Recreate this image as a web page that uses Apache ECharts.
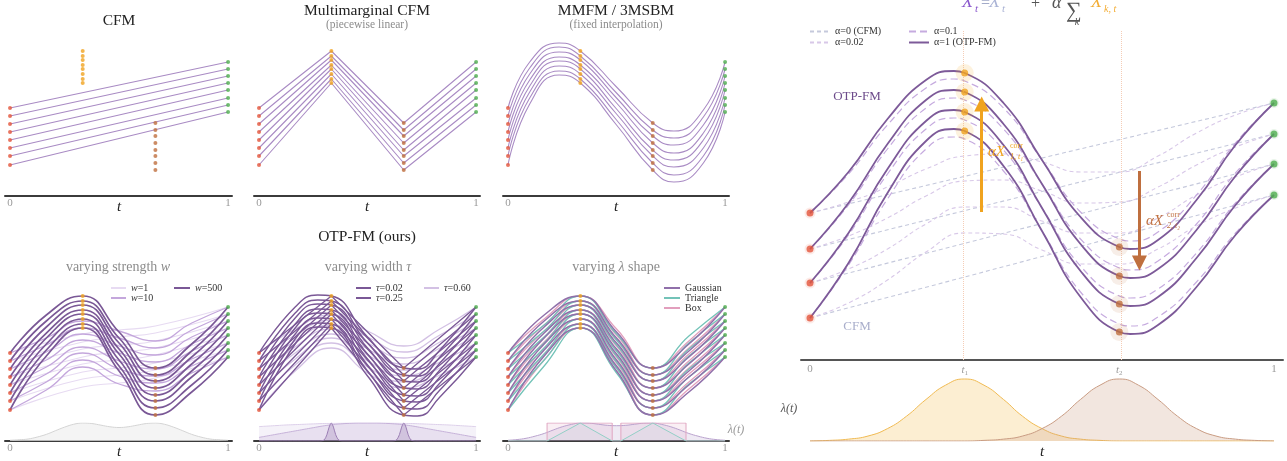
<!DOCTYPE html>
<html>
<head>
<meta charset="utf-8">
<title>OTP-FM trajectories</title>
<script src="https://cdn.jsdelivr.net/npm/echarts@6.0.0/dist/echarts.min.js"></script>
<style>
  html, body { margin: 0; padding: 0; background: #fff; }
  #chart { width: 1287px; height: 461px; }
</style>
</head>
<body>
<div id="chart"></div>
<script>
const SERIF = '"Liberation Serif", "DejaVu Serif", serif';

// ---------- sample times ----------
const knotTimes   = [0, 1/3, 2/3, 1];
const sixthTimes  = [0, 1/6, 1/3, 1/2, 2/3, 5/6, 1];
const wideTimes   = [0, 1/3, 1/2, 2/3, 1];
const mmfmTimes   = [0, 0.1, 0.235, 1/3, 0.5, 2/3, 0.764, 0.9, 1];
const tauMidTimes = [0, 1/6, 0.27, 1/3, 1/2, 2/3, 0.73, 5/6, 1];
const bigTimes    = [0, 0.083, 0.167, 0.25, 0.31, 1/3, 0.417, 0.5, 0.583, 2/3, 0.69, 0.75, 0.833, 0.917, 1];
const softTimes   = [0, 0.083, 0.167, 0.25, 1/3, 0.417, 0.5, 0.583, 2/3, 0.75, 0.833, 0.917, 1];

// ---------- small panels: 8 particles at the four marginals ----------
const startPts = [88, 80, 72, 64, 56, 48, 40, 31];
const midPts1  = [145, 140, 136, 131, 127, 122, 117, 113];
const midPts2  = [73, 66, 60, 53, 46, 40, 33, 26];
const endPts   = [134, 127, 120, 113, 106, 98, 91, 84];

// MMFM / 3MSBM cubic paths
const mmfmEarly = [134, 128, 122, 116, 110, 104, 98, 92];
const mmfmPeak  = [153, 149, 144, 139, 135, 130, 125, 121];
const mmfmMid   = [109, 103, 98, 93, 87, 82, 76, 71];
const mmfmLow   = [65, 58, 51, 43, 36, 29, 21, 14];
const mmfmLate  = [86, 79, 71, 63, 56, 48, 40, 33];

// OTP-FM, Gaussian lambda, full strength
const otpRise  = [126, 120, 114, 108, 103, 97, 91, 85];
const otpCross = [109, 103, 98, 92, 87, 81, 75, 70];
const otpClimb = [97, 90, 84, 77, 70, 64, 56, 49];

// strength w=10
const w10Rise  = [103, 96, 89, 81, 74, 67, 59, 51];
const w10Mid1  = [120, 113, 107, 101, 94, 88, 81, 74];
const w10Cross = [110, 103, 95, 88, 80, 72, 65, 57];
const w10Mid2  = [100, 93, 86, 79, 72, 65, 58, 50];
const w10Climb = [118, 111, 104, 97, 90, 82, 75, 68];

// strength w=1
const w1Mid1  = [107, 99, 92, 84, 77, 69, 62, 54];
const w1Cross = [111, 104, 96, 89, 81, 73, 66, 58];
const w1Mid2  = [115, 108, 100, 93, 86, 78, 71, 63];

// width tau=0.25
const tauMidRise  = [134, 128, 123, 117, 113, 107, 102, 97];
const tauMidPeak  = [146, 141, 137, 132, 128, 123, 118, 114];
const tauMidCross = [104, 98, 93, 87, 82, 76, 70, 65];
const tauMidLow   = [72, 65, 59, 52, 45, 39, 32, 25];
const tauMidClimb = [91, 84, 78, 71, 64, 58, 51, 44];

// width tau=0.60
const tauWideRise  = [112, 106, 100, 94, 88, 82, 76, 70];
const tauWideMid1  = [126, 121, 116, 112, 107, 103, 98, 93];
const tauWideCross = [110, 104, 98, 92, 86, 80, 74, 68];
const tauWideMid2  = [95, 89, 83, 77, 71, 65, 59, 53];
const tauWideClimb = [112, 106, 99, 93, 86, 79, 73, 66];

// lambda shape: triangle and box
const triRise  = [116, 110, 104, 98, 93, 87, 81, 75];
const triCross = [107, 101, 96, 90, 85, 79, 73, 68];
const triClimb = [105, 98, 92, 85, 78, 72, 64, 57];
const boxRise  = [122, 116, 110, 104, 99, 93, 87, 81];
const boxCross = [112, 106, 101, 95, 90, 84, 78, 73];
const boxClimb = [100, 93, 87, 80, 73, 67, 59, 52];

// lambda(t) profiles
const lamT = [0, 0.042, 0.083, 0.125, 0.167, 0.208, 0.25, 0.292, 0.333, 0.375, 0.417, 0.458, 0.5,
              0.542, 0.583, 0.625, 0.667, 0.708, 0.75, 0.792, 0.833, 0.875, 0.917, 0.958, 1];
const lamStrength = [0.04, 0.07, 0.11, 0.22, 0.37, 0.57, 0.77, 0.93, 1, 0.97, 0.88, 0.79, 0.75,
                     0.79, 0.88, 0.97, 1, 0.93, 0.77, 0.57, 0.37, 0.22, 0.11, 0.07, 0.04];
const lamTauWide = [0.8, 0.83, 0.86, 0.89, 0.91, 0.93, 0.95, 0.97, 0.98, 0.99, 1, 1, 1,
                    1, 1, 0.99, 0.98, 0.97, 0.95, 0.93, 0.91, 0.89, 0.86, 0.83, 0.8];
const lamTauMid = [0.2, 0.29, 0.38, 0.47, 0.56, 0.65, 0.74, 0.83, 0.9, 0.95, 0.98, 1, 1,
                   1, 0.98, 0.95, 0.9, 0.83, 0.74, 0.65, 0.56, 0.47, 0.38, 0.29, 0.2];
const lamTauNarrowT = [0, 0.28, 0.3, 0.313, 0.323, 0.333, 0.343, 0.353, 0.367, 0.387,
                       0.613, 0.633, 0.647, 0.657, 0.667, 0.677, 0.687, 0.7, 0.72, 1];
const lamTauNarrow = [0, 0, 0.06, 0.36, 0.77, 1, 0.77, 0.36, 0.06, 0,
                      0, 0.06, 0.36, 0.77, 1, 0.77, 0.36, 0.06, 0, 0];
const lamGauss = [0.04, 0.08, 0.15, 0.27, 0.42, 0.61, 0.79, 0.92, 1, 0.99, 0.93, 0.87, 0.85,
                  0.87, 0.93, 0.99, 1, 0.92, 0.79, 0.61, 0.42, 0.27, 0.15, 0.08, 0.04];
const lamTriT = [0, 0.18, 0.333, 0.48, 0.52, 0.667, 0.82, 1];
const lamTri  = [0, 0, 1, 0, 0, 1, 0, 0];
const lamBoxT = [0, 0.18, 0.18, 0.48, 0.48, 0.52, 0.52, 0.82, 0.82, 1];
const lamBox  = [0, 0, 1, 1, 0, 0, 1, 1, 0, 0];

// ---------- large panel: 4 particles ----------
const bigStart = [147, 111, 77, 42];
const bigT1    = [287, 268, 248, 229];
const bigT2    = [113, 84, 56, 28];
const bigEnd   = [257, 226, 196, 165];
// one row per particle, sampled at bigTimes
const otpPath1 = [147, 188, 241, 280, 289, 287, 257, 200, 143, 113, 111, 120, 160, 215, 257];
const otpPath2 = [111, 157, 216, 260, 270, 268, 236, 176, 116, 84, 82, 91, 130, 184, 226];
const otpPath3 = [77, 127, 191, 239, 250, 248, 215, 152, 89, 56, 54, 63, 102, 155, 196];
const otpPath4 = [42, 97, 167, 219, 231, 229, 194, 129, 63, 28, 26, 35, 73, 125, 165];
const a01Path1 = [147, 186, 235, 272, 281, 279, 252, 200, 148, 121, 119, 128, 165, 217, 257];
const a01Path2 = [111, 155, 211, 252, 262, 260, 231, 176, 121, 92, 90, 99, 136, 187, 226];
const a01Path3 = [77, 125, 186, 231, 242, 240, 210, 152, 94, 64, 62, 71, 107, 157, 196];
const a01Path4 = [42, 95, 161, 211, 223, 221, 189, 129, 68, 36, 34, 43, 78, 127, 165];
// one row per particle, sampled at softTimes
const a002Path1 = [147, 158, 173, 191, 204, 206, 198, 188, 188, 204, 227, 245, 257];
const a002Path2 = [111, 124, 142, 164, 179, 180, 169, 157, 158, 173, 195, 213, 226];
const a002Path3 = [77, 91, 111, 136, 153, 153, 139, 127, 127, 142, 165, 183, 196];
const a002Path4 = [42, 57, 80, 108, 127, 126, 110, 96, 96, 111, 134, 152, 165];
const lambda1 = [0, 0.01, 0.03, 0.08, 0.2, 0.4, 0.67, 0.9, 1, 0.9, 0.67, 0.4, 0.2,
                 0.08, 0.03, 0.01, 0, 0, 0, 0, 0, 0, 0, 0, 0];
const lambda2 = [0, 0, 0, 0, 0, 0, 0, 0, 0, 0.01, 0.03, 0.08, 0.2,
                 0.4, 0.67, 0.9, 1, 0.9, 0.67, 0.4, 0.2, 0.08, 0.03, 0.01, 0];
const corrArrow1 = { t: 0.37, from: 148, to: 256 };
const corrArrow2 = { t: 0.71, from: 189, to: 97 };

// ---------- colours ----------
const C = {
  start: '#e4553b', t1: '#f0a31f', t2: '#bf6f3f', end: '#4fae4f',
  thin: '#a98bc4', dark: '#7a5896', mid: '#c4a7dc', faint: '#e7dbf2',
  gauss: '#9070aa', tri: '#73c3b8', box: '#e29fbd',
  axis: '#3b3b3b', tick: '#9a9a9a'
};

// ---------- grids ----------
const grids = [], xAxes = [], yAxes = [];
function addGrid(g, xa, ya) {
  grids.push(Object.assign({ containLabel: false, outerBoundsMode: 'none' }, g));
  const gi = grids.length - 1;
  xAxes.push(Object.assign({ gridIndex: gi }, xa));
  yAxes.push(Object.assign({ gridIndex: gi, type: 'value', show: false }, ya));
  return gi;
}
function smallX(show) {
  return {
    type: 'value', min: -0.023, max: 1.018, show: true,
    axisLine: { show, onZero: false, lineStyle: { color: C.axis, width: 2 } },
    axisTick: { show: false }, splitLine: { show: false },
    axisLabel: { show, customValues: [0, 1], color: C.tick, fontSize: 11, fontFamily: SERIF, margin: 2,
                 formatter: v => (v < 0.5 ? '0' : '1') }
  };
}
const colLeft = [5, 254, 503];
const colWidth = [227, 226, 226];
const topG = [], botG = [], lamG = [];
for (let c = 0; c < 3; c++) {
  topG.push(addGrid({ left: colLeft[c], width: colWidth[c], top: 30, height: 166 }, smallX(true), { min: 0, max: 166 }));
}
for (let c = 0; c < 3; c++) {
  botG.push(addGrid({ left: colLeft[c], width: colWidth[c], top: 275, height: 166 }, smallX(true), { min: 0, max: 166 }));
}
for (let c = 0; c < 3; c++) {
  lamG.push(addGrid({ left: colLeft[c], width: colWidth[c], top: 423, height: 18 }, Object.assign(smallX(false), { show: false }), { min: 0, max: 1 }));
}
const bigG = addGrid({ left: 801, width: 482, top: 30, height: 330 }, {
  type: 'value', min: -0.0194, max: 1.0194,
  axisLine: { show: true, onZero: false, lineStyle: { color: '#555', width: 2 } },
  axisTick: { show: false }, splitLine: { show: false },
  axisLabel: {
    customValues: [0, 1/3, 2/3, 1], color: C.tick, fontSize: 11, fontFamily: SERIF, margin: 4,
    formatter: v => v < 0.01 ? '0' : v > 0.99 ? '1' : (v < 0.5 ? '{i|t}{s|1}' : '{i|t}{s|2}'),
    rich: {
      i: { fontStyle: 'italic', fontSize: 11, fontFamily: SERIF, color: C.tick },
      s: { fontSize: 7, fontFamily: SERIF, color: C.tick, padding: [6, 0, 0, 0] }
    }
  }
}, { min: 0, max: 330 });
const bigLamG = addGrid({ left: 801, width: 482, top: 370, height: 71 },
  { type: 'value', min: -0.0194, max: 1.0194, show: false }, { min: 0, max: 1.145 });

// ---------- series helpers ----------
const series = [];
function pushLine(gi, data, color, width, opts) {
  const s = {
    type: 'line', xAxisIndex: gi, yAxisIndex: gi, data,
    symbol: 'none', smooth: opts.smooth === undefined ? 0.5 : opts.smooth,
    silent: true, z: opts.z || 3,
    itemStyle: { color },
    lineStyle: { color, width, type: opts.dash || 'solid' },
    emphasis: { disabled: true }
  };
  if (opts.name) s.name = opts.name;
  series.push(s);
}
// columns: one array per sample time, each holding every particle
function family(gi, times, cols, color, width, opts = {}) {
  for (let i = 0; i < cols[0].length; i++) {
    pushLine(gi, times.map((t, k) => [t, cols[k][i]]), color, width, opts);
  }
}
// rows: one array per particle, sampled at times
function paths(gi, times, rows, color, width, opts = {}) {
  rows.forEach(row => pushLine(gi, times.map((t, k) => [t, row[k]]), color, width, opts));
}
function dots(gi, t, vals, color, size, z) {
  series.push({
    type: 'scatter', xAxisIndex: gi, yAxisIndex: gi, data: vals.map(v => [t, v]),
    symbol: 'circle', symbolSize: size, itemStyle: { color }, silent: true, z: z || 8,
    emphasis: { disabled: true }
  });
}
function marginals(gi, size) {
  dots(gi, 0, startPts, C.start, size);
  dots(gi, 1/3, midPts1, C.t1, size);
  dots(gi, 2/3, midPts2, C.t2, size);
  dots(gi, 1, endPts, C.end, size);
}
function lamArea(gi, times, vals, line, fill, z, smooth) {
  series.push({
    type: 'line', xAxisIndex: gi, yAxisIndex: gi, data: times.map((t, k) => [t, vals[k]]),
    symbol: 'none', smooth: smooth || 0, silent: true, z: z || 1,
    lineStyle: { color: line, width: 1 }, areaStyle: { color: fill }, emphasis: { disabled: true }
  });
}

// ---------- top row ----------
family(topG[0], [0, 1], [startPts, endPts], C.thin, 1.1, { smooth: false });
marginals(topG[0], 4);

family(topG[1], knotTimes, [startPts, midPts1, midPts2, endPts], C.thin, 1.1, { smooth: false });
marginals(topG[1], 4);

family(topG[2], mmfmTimes, [startPts, mmfmEarly, mmfmPeak, midPts1, mmfmMid, midPts2, mmfmLow, mmfmLate, endPts], C.thin, 1.1);
marginals(topG[2], 4);

// ---------- bottom row: strength ----------
lamArea(lamG[0], lamT, lamStrength, '#d4d4d4', '#efefef', 1, 0.4);
family(botG[0], wideTimes, [startPts, w1Mid1, w1Cross, w1Mid2, endPts], C.faint, 1.2, { z: 2, name: 'w=1' });
family(botG[0], sixthTimes, [startPts, w10Rise, w10Mid1, w10Cross, w10Mid2, w10Climb, endPts], C.mid, 1.3, { z: 3, name: 'w=10' });
family(botG[0], sixthTimes, [startPts, otpRise, midPts1, otpCross, midPts2, otpClimb, endPts], C.dark, 1.7, { z: 4, name: 'w=500' });
marginals(botG[0], 4);

// ---------- bottom row: width ----------
lamArea(lamG[1], lamT, lamTauWide, '#ddd0ea', 'rgba(205,190,225,0.28)', 1, 0.4);
lamArea(lamG[1], lamT, lamTauMid, '#c6b2d9', 'rgba(180,155,205,0.28)', 1, 0.4);
lamArea(lamG[1], lamTauNarrowT, lamTauNarrow, '#9a7db3', 'rgba(140,105,170,0.35)', 1, 0.3);
family(botG[1], sixthTimes, [startPts, tauWideRise, tauWideMid1, tauWideCross, tauWideMid2, tauWideClimb, endPts], '#d3c1e4', 1.3, { z: 2, name: 'τ=0.60' });
family(botG[1], tauMidTimes, [startPts, tauMidRise, tauMidPeak, midPts1, tauMidCross, midPts2, tauMidLow, tauMidClimb, endPts], C.dark, 1.4, { z: 3, name: 'τ=0.25' });
family(botG[1], knotTimes, [startPts, midPts1, midPts2, endPts], C.dark, 1.3, { z: 4, smooth: false, name: 'τ=0.02' });
marginals(botG[1], 4);

// ---------- bottom row: lambda shape ----------
lamArea(lamG[2], lamT, lamGauss, '#b9a2cd', 'rgba(165,135,190,0.25)', 1, 0.4);
lamArea(lamG[2], lamBoxT, lamBox, '#e0a6c1', 'rgba(228,165,195,0.25)', 1, 0);
lamArea(lamG[2], lamTriT, lamTri, '#93cfc6', 'rgba(150,200,195,0.15)', 1, 0);
family(botG[2], sixthTimes, [startPts, boxRise, midPts1, boxCross, midPts2, boxClimb, endPts], C.box, 1.3, { z: 2, name: 'Box' });
family(botG[2], sixthTimes, [startPts, triRise, midPts1, triCross, midPts2, triClimb, endPts], C.tri, 1.3, { z: 3, name: 'Triangle' });
family(botG[2], sixthTimes, [startPts, otpRise, midPts1, otpCross, midPts2, otpClimb, endPts], C.gauss, 1.5, { z: 4, name: 'Gaussian' });
marginals(botG[2], 4);

// ---------- large panel ----------
family(bigG, [0, 1], [bigStart, bigEnd], '#c5c9dc', 1.1, { smooth: false, dash: [4, 3], z: 2, name: 'α=0 (CFM)' });
paths(bigG, softTimes, [a002Path1, a002Path2, a002Path3, a002Path4], '#d8c8e8', 1.1, { dash: [4, 3], z: 2, name: 'α=0.02' });
paths(bigG, bigTimes, [a01Path1, a01Path2, a01Path3, a01Path4], '#c6abdf', 1.2, { dash: [7, 4], z: 3, name: 'α=0.1' });
paths(bigG, bigTimes, [otpPath1, otpPath2, otpPath3, otpPath4], '#7d5a99', 1.8, { z: 4, name: 'α=1 (OTP-FM)' });

// guide lines at t1, t2 and the correction arrows
series.push({
  type: 'line', xAxisIndex: bigG, yAxisIndex: bigG, data: [], silent: true, z: 1,
  markLine: {
    silent: true, symbol: 'none', label: { show: false }, animation: false,
    lineStyle: { color: '#f5cdb6', type: 'dotted', width: 1 },
    data: [{ xAxis: 1/3 }, { xAxis: 2/3 }]
  }
});
series.push({
  type: 'line', xAxisIndex: bigG, yAxisIndex: bigG, data: [], silent: true, z: 9,
  markLine: {
    silent: true, symbol: ['none', 'triangle'], symbolSize: 15, label: { show: false }, animation: false,
    data: [
      [{ coord: [corrArrow1.t, corrArrow1.from], lineStyle: { color: C.t1, width: 3, type: 'solid' }, itemStyle: { color: C.t1 } },
       { coord: [corrArrow1.t, corrArrow1.to], itemStyle: { color: C.t1 } }],
      [{ coord: [corrArrow2.t, corrArrow2.from], lineStyle: { color: C.t2, width: 3, type: 'solid' }, itemStyle: { color: C.t2 } },
       { coord: [corrArrow2.t, corrArrow2.to], itemStyle: { color: C.t2 } }]
    ]
  }
});

// halos and particles
function bigDots(t, vals, color, halo, haloSize) {
  dots(bigG, t, vals, halo, haloSize, 6);
  dots(bigG, t, vals, color, 7, 8);
}
bigDots(0, bigStart, C.start, 'rgba(228,85,59,0.15)', 11);
bigDots(1/3, bigT1, C.t1, 'rgba(240,163,31,0.18)', 18);
bigDots(2/3, bigT2, C.t2, 'rgba(191,111,63,0.15)', 18);
bigDots(1, bigEnd, C.end, 'rgba(79,174,79,0.15)', 10);

// lambda(t) under the large panel
lamArea(bigLamG, lamT, lambda1, '#f0ba52', 'rgba(246,203,112,0.45)', 1, 0.5);
lamArea(bigLamG, lamT, lambda2, '#c99c83', 'rgba(205,163,136,0.38)', 2, 0.5);

// ---------- legends ----------
const legendText = (lh) => ({
  fontFamily: SERIF, fontSize: 10, color: '#333', lineHeight: lh,
  rich: { i: { fontStyle: 'italic', fontFamily: SERIF, fontSize: 10, color: '#333', lineHeight: lh } }
});
const legendBase = {
  orient: 'vertical', itemGap: 0, itemWidth: 15, itemHeight: 10, padding: 0, selectedMode: false,
  itemStyle: { opacity: 0 },
  textStyle: legendText(10),
  formatter: name => name.replace(/^([wτ])=/, '{i|$1}=')
};
const legends = [
  { data: ['w=1', 'w=10'], left: 110, top: 283 },
  { data: ['w=500'], left: 173, top: 283, itemWidth: 16 },
  { data: ['τ=0.02', 'τ=0.25'], left: 355, top: 283 },
  { data: ['τ=0.60'], left: 423, top: 283 },
  { data: ['Gaussian', 'Triangle', 'Box'], left: 663, top: 283, itemWidth: 16 },
  { data: ['α=0 (CFM)', 'α=0.02'], left: 809, top: 26, itemWidth: 20, itemHeight: 11, textStyle: legendText(11) },
  { data: ['α=0.1', 'α=1 (OTP-FM)'], left: 908, top: 26, itemWidth: 20, itemHeight: 11, textStyle: legendText(11) }
].map(l => Object.assign({}, legendBase, l));

// ---------- text ----------
function txt(x, y, text, font, fill, align, rich) {
  const style = { text, font, fill: fill || '#222', align: align || 'center', verticalAlign: 'middle',
                  textAlign: align || 'center', textVerticalAlign: 'middle' };
  if (rich) style.rich = rich;
  return { type: 'text', x, y, silent: true, z: 100, style };
}
const f = (size, italic) => `${italic ? 'italic ' : ''}${size}px ${SERIF}`;
const subRich = {
  n: { font: f(14), fill: '#8c8c8c', fontFamily: SERIF, fontSize: 14, color: '#8c8c8c' },
  i: { font: f(14, true), fill: '#8c8c8c', fontFamily: SERIF, fontSize: 14, fontStyle: 'italic', color: '#8c8c8c' }
};
const texts = [
  txt(119, 21, 'CFM', f(15.5)),
  txt(367, 11, 'Multimarginal CFM', f(15.5)),
  txt(367, 25, '(piecewise linear)', f(11.5), '#8c8c8c'),
  txt(616, 11, 'MMFM / 3MSBM', f(15.5)),
  txt(616, 25, '(fixed interpolation)', f(11.5), '#8c8c8c'),
  txt(367, 237, 'OTP-FM (ours)', f(15.5)),
  txt(118, 267, '{n|varying strength }{i|w}', f(14), '#8c8c8c', 'center', subRich),
  txt(368, 267, '{n|varying width }{i|τ}', f(14), '#8c8c8c', 'center', subRich),
  txt(616, 267, '{n|varying }{i|λ}{n| shape}', f(14), '#8c8c8c', 'center', subRich),
  txt(119, 207, 't', f(15, true)), txt(367, 207, 't', f(15, true)), txt(616, 207, 't', f(15, true)),
  txt(119, 452, 't', f(15, true)), txt(367, 452, 't', f(15, true)), txt(616, 452, 't', f(15, true)),
  txt(1042, 452, 't', f(15, true)),
  txt(736, 430, 'λ(t)', f(12, true), '#9a9a9a'),
  txt(789, 409, 'λ(t)', f(12, true), '#555'),
  txt(857, 97, 'OTP-FM', f(13), '#6c4a8a'),
  txt(857, 327, 'CFM', f(13), '#a9aecb'),
  // correction labels
  txt(988, 152, 'αX', f(15, true), C.t1, 'left'),
  txt(1010, 146, 'corr', f(8), C.t1, 'left'),
  txt(1010, 157, '1, t₁', f(8, true), C.t1, 'left'),
  txt(1146, 221, 'αX', f(15, true), C.t2, 'left'),
  txt(1167, 215, 'corr', f(8), C.t2, 'left'),
  txt(1167, 226, '2, t₂', f(8, true), C.t2, 'left'),
  // update rule
  txt(962, 2, 'X', f(18, true), '#8a58cc', 'left'),
  txt(975, 9, 't', f(11, true), '#8a58cc', 'left'),
  txt(981, 4, '=', f(16), '#a3abc9', 'left'),
  txt(989, 2, 'X', f(18, true), '#aab3d5', 'left'),
  txt(1002, 9, 't', f(11, true), '#aab3d5', 'left'),
  txt(1002, -3, 'base', f(11), '#aab3d5', 'left'),
  txt(1031, 4, '+', f(16), '#555', 'left'),
  txt(1052, 3, 'α', f(18, true), '#555', 'left'),
  txt(1066, 11, '∑', f(22), '#555', 'left'),
  txt(1077, 22, 'k', f(10, true), '#555'),
  txt(1091, 2, 'X', f(18, true), '#f3ac33', 'left'),
  txt(1104, 9, 'k, t', f(10, true), '#f3ac33', 'left'),
  txt(1104, -3, 'corr', f(11), '#f3ac33', 'left')
];

const chart = echarts.init(document.getElementById('chart'), null, { width: 1287, height: 461 });
chart.setOption({
  animation: false,
  backgroundColor: '#fff',
  grid: grids, xAxis: xAxes, yAxis: yAxes,
  legend: legends,
  series,
  graphic: { elements: texts }
});
</script>
</body>
</html>
